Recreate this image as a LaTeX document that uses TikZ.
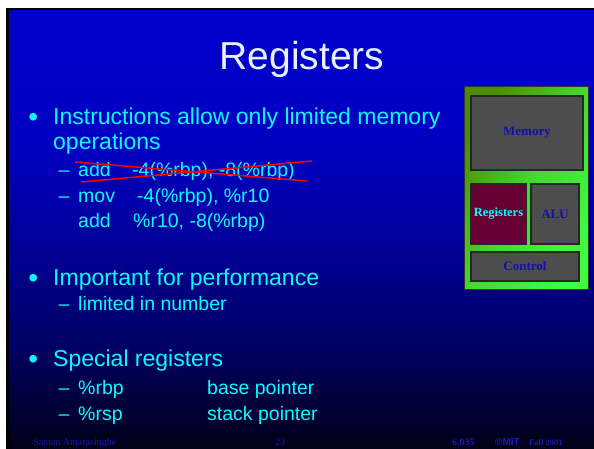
\documentclass[tikz,border=0pt]{standalone}
\usepackage{fontspec}
\setmainfont{Liberation Sans}
\newfontfamily\serifb{Liberation Serif}
\definecolor{bgA}{RGB}{0,0,204}
\definecolor{bgB}{RGB}{0,0,192}
\definecolor{bgC}{RGB}{0,0,150}
\definecolor{bgD}{RGB}{0,0,95}
\definecolor{bgE}{RGB}{0,0,22}
\definecolor{txtc}{RGB}{10,250,255}
\definecolor{titlec}{RGB}{230,242,255}
\definecolor{boxgray}{RGB}{77,77,77}
\definecolor{regfill}{RGB}{102,0,51}
\definecolor{lblblue}{RGB}{16,16,176}
\definecolor{footc}{RGB}{26,26,190}
\definecolor{gbright}{RGB}{64,250,64}
\definecolor{gdark}{RGB}{76,140,0}
\pgfdeclareverticalshading{slidebg}{100bp}{color(0bp)=(bgE); color(25bp)=(bgE); color(36bp)=(bgD); color(48bp)=(bgC); color(59bp)=(bgB); color(75bp)=(bgA); color(100bp)=(bgA)}
\begin{document}
\begin{tikzpicture}[x=1pt,y=-1pt,
  txt/.style={anchor=base west, inner sep=0pt, text=txtc},
  mainf/.style={font=\fontsize{23}{25}\selectfont},
  subf/.style={font=\fontsize{19.5}{22}\selectfont},
  bul/.style={anchor=base, inner sep=0pt, text=txtc, font=\fontsize{28}{28}\selectfont},
  unitbox/.style={draw=black!85, line width=1.2pt, fill=boxgray, inner sep=0pt, font=\serifb\bfseries\fontsize{13}{14}\selectfont, text=lblblue},
  foot/.style={anchor=base west, inner sep=0pt, text=footc, font=\serifb\fontsize{10}{11}\selectfont}]
\useasboundingbox (0,0) rectangle (594,449);
\fill[white] (0,0) rectangle (594,449);
\fill[black] (6,8) rectangle (594,449);
\shade[shading=slidebg] (9,11) rectangle (594,449);

% title
\node[anchor=base, inner sep=0pt, text=titlec, font=\fontsize{39}{40}\selectfont] (title) at (302,70) {Registers};

% bullet 1
\node[bul] (b1) at (33.3,127) {•};
\node[txt, mainf] (t1a) at (53,125) {Instructions allow only limited memory};
\node[txt, mainf] (t1b) at (53,150) {operations};
\node[txt, subf] (d1) at (58.5,177) {–};
\node[txt, subf] (s1a) at (78,177) {add};
\node[txt, subf] (s1b) at (132,177) {-4(\%rbp), -8(\%rbp)};
\node[txt, subf] (d2) at (58.5,203) {–};
\node[txt, subf] (s2a) at (78,203) {mov};
\node[txt, subf] (s2b) at (137,203) {-4(\%rbp), \%r10};
\node[txt, subf] (s3a) at (78,227) {add};
\node[txt, subf] (s3b) at (133,227) {\%r10, -8(\%rbp)};
\draw[red, line width=1.5pt] (75,162) -- (307,181);
\draw[red, line width=1.5pt] (81,182) -- (312,161);

% bullet 2
\node[bul] (b2) at (33.3,287) {•};
\node[txt, mainf] (t2) at (53,285) {Important for performance};
\node[txt, subf] (d3) at (58.5,310) {–};
\node[txt, subf] (s4) at (78,310) {limited in number};

% bullet 3
\node[bul] (b3) at (33.3,368) {•};
\node[txt, mainf] (t3) at (53,366) {Special registers};
\node[txt, subf] (d4) at (58.5,394) {–};
\node[txt, subf] (s5a) at (78,394) {\%rbp};
\node[txt, subf] (s5b) at (207,394) {base pointer};
\node[txt, subf] (d5) at (58.5,420) {–};
\node[txt, subf] (s6a) at (78,420) {\%rsp};
\node[txt, subf] (s6b) at (207,420) {stack pointer};

% machine diagram
\node[draw=black!80, line width=1pt, minimum width=124pt, minimum height=202pt, inner sep=0pt,
      left color=gdark, right color=gbright, middle color=gbright!70!gdark, shading angle=60] (outer) at (526,188) {};
\node[unitbox, minimum width=112pt, minimum height=74pt] (mem) at (527,133) {Memory};
\node[unitbox, fill=regfill, text=txtc, minimum width=55pt, minimum height=60pt, font=\serifb\bfseries\fontsize{12.5}{13}\selectfont] (reg) at (498.5,214) {Registers};
\node[unitbox, minimum width=48pt, minimum height=60pt] (alu) at (555,214) {ALU};
\node[unitbox, minimum width=108pt, minimum height=29pt] (ctl) at (525,266.5) {Control};

% footer
\node[foot] (f1) at (33,445) {Saman Amarasinghe};
\node[foot] (f2) at (275,445) {23};
\node[foot, font=\serifb\bfseries\fontsize{10}{11}\selectfont] (f3) at (452,445) {6.035};
\node[foot, font=\bfseries\fontsize{10}{11}\selectfont] (f4) at (495,445) {©MIT};
\node[foot, font=\serifb\bfseries\fontsize{8.5}{10}\selectfont] (f5) at (529,445) {Fall 2001};
\end{tikzpicture}
\end{document}
